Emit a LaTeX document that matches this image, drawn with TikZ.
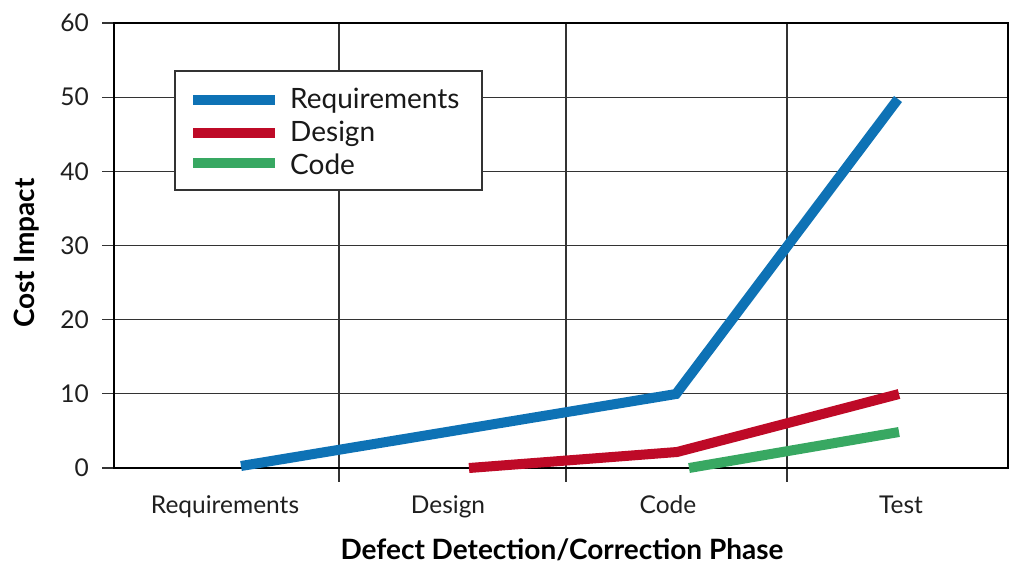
\documentclass[tikz,border=0pt]{standalone}
\usepackage{fontspec}
\setmainfont{Lato}
\definecolor{cblue}{HTML}{0E72B5}
\definecolor{cred}{HTML}{BE0A27}
\definecolor{cgreen}{HTML}{38A862}
\definecolor{cgrid}{HTML}{333333}
\tikzset{
  gridline/.style={draw=cgrid, line width=1.3pt},
  frame/.style={draw=black, line width=1.3pt},
  series/.style={line width=10pt, line cap=butt, line join=miter},
  ticklbl/.style={font=\fontsize{24.5}{26}\selectfont, text=black!88, inner sep=0pt},
  leglbl/.style={font=\fontsize{28}{30}\selectfont, text=black!90, inner sep=0pt, anchor=base west},
  title/.style={font=\bfseries\fontsize{28}{30}\selectfont, inner sep=0pt}
}
\begin{document}
\begin{tikzpicture}[x={(1pt,0pt)}, y={(0pt,-1pt)}]
\useasboundingbox (0,0) rectangle (1014,565);
% horizontal gridlines and ticks
\foreach \v/\yy in {60/23,50/97.2,40/171.3,30/245.5,20/319.7,10/393.8,0/468} {
  \draw[gridline] (102,\yy) -- (1008,\yy);
  \node[ticklbl, anchor=east] (y\v) at (89,\yy) {\v};
}
% vertical gridlines
\foreach \xx in {339,566,787} {
  \draw[gridline] (\xx,23) -- (\xx,482);
}
\draw[frame] (114,23) -- (114,468) -- (1008,468) -- (1008,23) -- cycle;
% x labels
\node[ticklbl, anchor=base] (xreq) at (225,513) {Requirements};
\node[ticklbl, anchor=base] (xdes) at (448,513) {Design};
\node[ticklbl, anchor=base] (xcod) at (668,513) {Code};
\node[ticklbl, anchor=base] (xtst) at (901,513) {Test};
% titles
\node[title, anchor=base] (xtitle) at (562,559) {Defect Detection/Correction Phase};
\node[title, rotate=90] (ytitle) at (27,253) {Cost Impact};
% data coordinates
\coordinate (b1) at (241,466);
\coordinate (b2) at (676,394);
\coordinate (b3) at (898,99);
\coordinate (r1) at (469,468);
\coordinate (r2) at (677,452);
\coordinate (r3) at (899,394);
\coordinate (g1) at (689,468);
\coordinate (g2) at (899,432);
\draw[series, cblue] (b1) -- (b2) -- (b3);
\draw[series, cred] (r1) -- (r2) -- (r3);
\draw[series, cgreen] (g1) -- (g2);
% legend
\node[draw=cgrid, line width=1.3pt, fill=white, minimum width=307pt, minimum height=119pt, inner sep=0pt] (legend) at (328.5,130.5) {};
\coordinate (lb1) at (193,100); \coordinate (lb2) at (275,100);
\coordinate (lr1) at (193,133); \coordinate (lr2) at (275,133);
\coordinate (lg1) at (193,163); \coordinate (lg2) at (275,163);
\draw[series, cblue] (lb1) -- (lb2);
\draw[series, cred] (lr1) -- (lr2);
\draw[series, cgreen] (lg1) -- (lg2);
\node[leglbl] (lreq) at (290,108) {Requirements};
\node[leglbl] (ldes) at (290,141) {Design};
\node[leglbl] (lcod) at (290,174) {Code};
\end{tikzpicture}
\end{document}
